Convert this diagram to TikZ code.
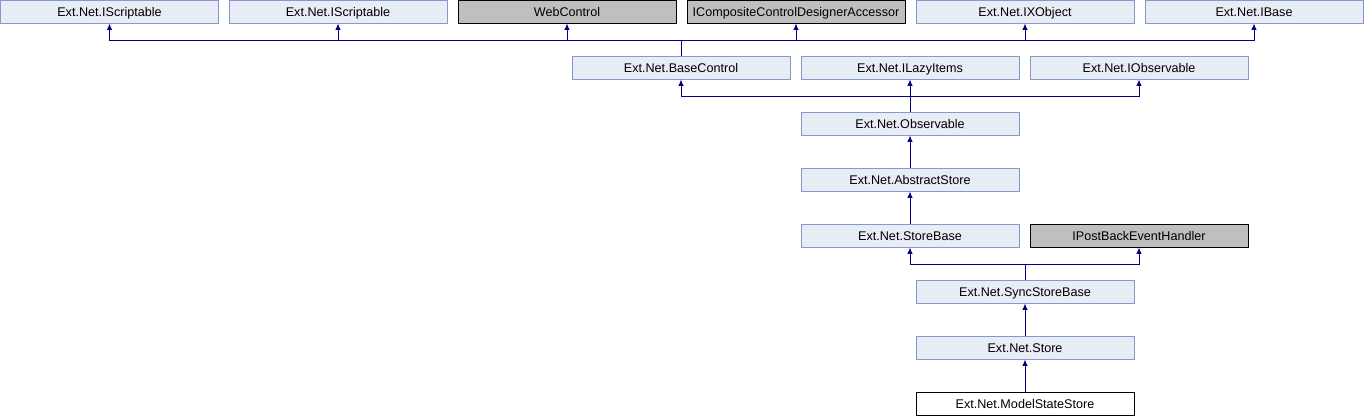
\documentclass[tikz,border=0pt]{standalone}
\usepackage{fontspec}
\setmainfont{Liberation Sans}
\usetikzlibrary{arrows.meta}
\definecolor{boxfill}{RGB}{232,236,245}
\definecolor{boxline}{RGB}{132,154,204}
\definecolor{extfill}{RGB}{191,191,191}
\definecolor{arrowc}{RGB}{0,0,128}
\tikzset{
  cls/.style={draw=boxline, fill=boxfill, line width=0.9bp, minimum width=218bp, minimum height=23bp, inner sep=0pt, text height=11bp, text depth=2bp, font=\fontsize{12.6bp}{14bp}\selectfont},
  extcls/.style={cls, draw=black, fill=extfill},
  cur/.style={cls, draw=black, fill=white},
  inh/.style={draw=arrowc, line width=1bp, -{Latex[length=6.5bp,width=5.5bp]}},
  ln/.style={draw=arrowc, line width=1bp}
}
\begin{document}
\begin{tikzpicture}[x=1bp,y=-1bp]
\useasboundingbox (0,0) rectangle (1364,416);
% top row
\node[cls]    (t1) at (109.5,11.5) {Ext.Net.IScriptable};
\node[cls]    (t2) at (338,11.5) {Ext.Net.IScriptable};
\node[extcls] (t3) at (567,11.5) {WebControl};
\node[extcls] (t4) at (796,11.5) {ICompositeControlDesignerAccessor};
\node[cls]    (t5) at (1025,11.5) {Ext.Net.IXObject};
\node[cls]    (t6) at (1254,11.5) {Ext.Net.IBase};
% row 2
\node[cls] (bc) at (681,67.5) {Ext.Net.BaseControl};
\node[cls] (li) at (910,67.5) {Ext.Net.ILazyItems};
\node[cls] (io) at (1139,67.5) {Ext.Net.IObservable};
% chain
\node[cls] (ob) at (910,123.5) {Ext.Net.Observable};
\node[cls] (as) at (910,179.5) {Ext.Net.AbstractStore};
\node[cls] (sb) at (910,235.5) {Ext.Net.StoreBase};
\node[extcls] (pb) at (1139,235.5) {IPostBackEventHandler};
\node[cls] (ss) at (1025,291.5) {Ext.Net.SyncStoreBase};
\node[cls] (st) at (1025,347.5) {Ext.Net.Store};
\node[cur] (ms) at (1025,403.5) {Ext.Net.ModelStateStore};
% junctions
\coordinate (j1) at (681,40);
\coordinate (j2) at (910,96);
\coordinate (j3) at (1025,264);
% BaseControl -> top row
\draw[ln] (bc.north) -- (j1);
\foreach \t in {t1,t2,t3,t4,t5,t6} {\draw[inh] (j1) -| (\t.south);}
% Observable -> row 2
\draw[ln] (ob.north) -- (j2);
\foreach \t in {bc,li,io} {\draw[inh] (j2) -| (\t.south);}
% chain
\draw[inh] (as.north) -- (ob.south);
\draw[inh] (sb.north) -- (as.south);
\draw[ln] (ss.north) -- (j3);
\foreach \t in {sb,pb} {\draw[inh] (j3) -| (\t.south);}
\draw[inh] (st.north) -- (ss.south);
\draw[inh] (ms.north) -- (st.south);
\end{tikzpicture}
\end{document}
